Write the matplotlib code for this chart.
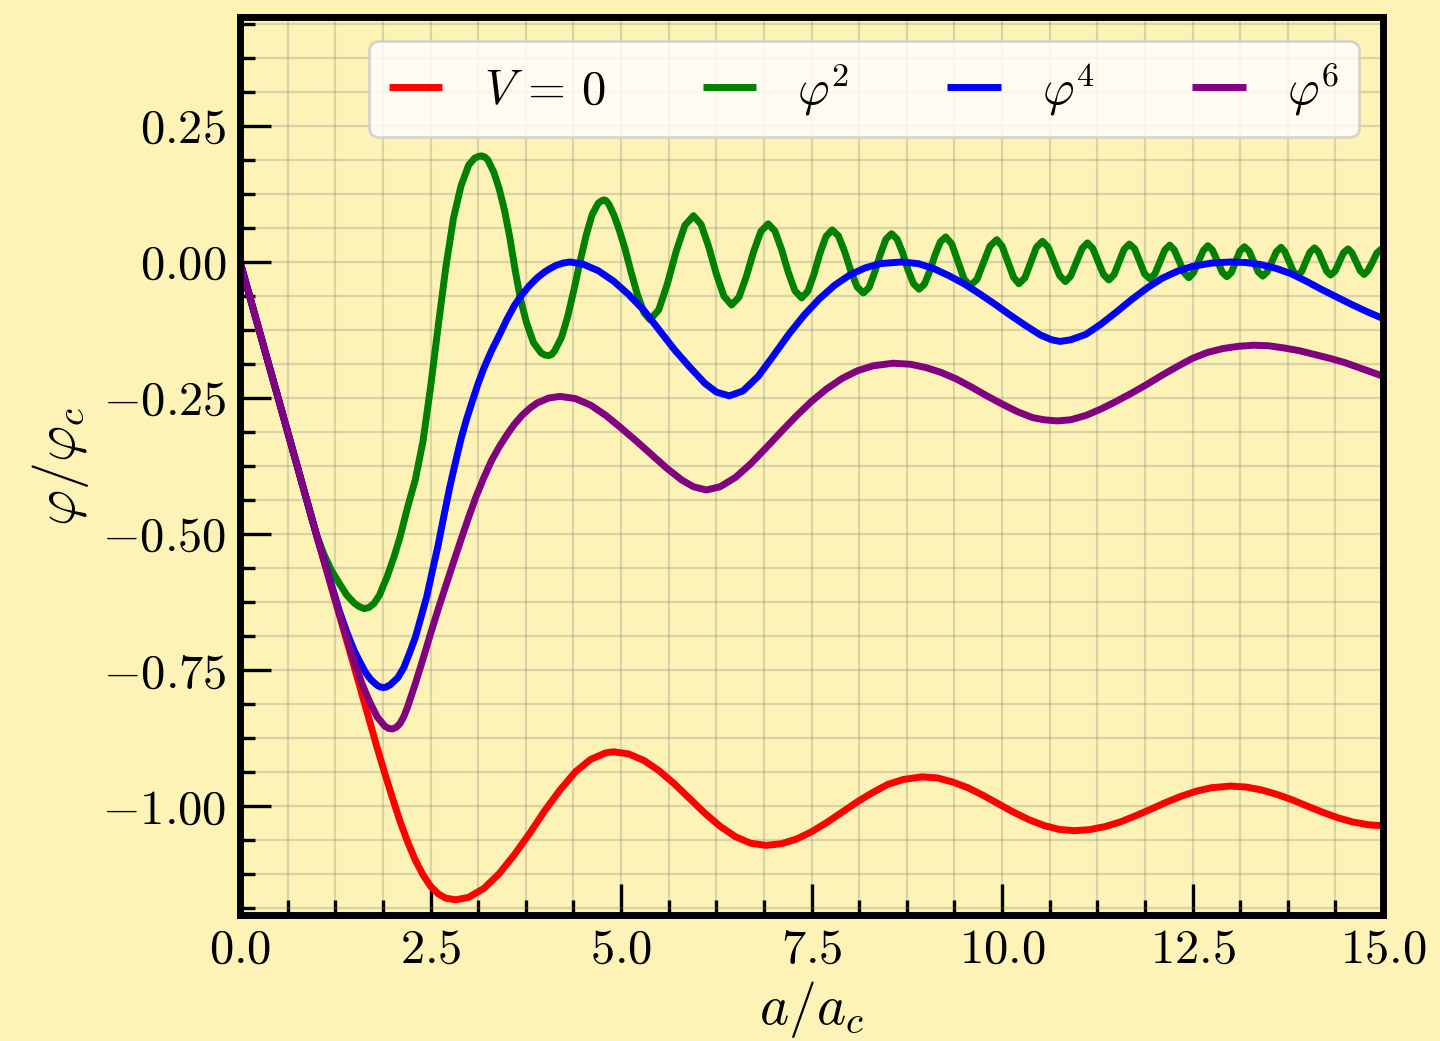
import numpy as np
import matplotlib.pyplot as plt
from matplotlib.ticker import MultipleLocator, FuncFormatter

plt.rcParams['mathtext.fontset'] = 'cm'
plt.rcParams['font.family'] = 'serif'
plt.rcParams['font.serif'] = ['cmr10', 'DejaVu Serif']

BG = '#fdf3b6'

# field evolution phi/phi_c against a/a_c for each potential
x_free = [0, 0.5, 1.0, 1.5, 1.8, 1.9, 2.0, 2.1, 2.2, 2.3, 2.4, 2.5, 2.6,
          2.7, 2.83, 3.0, 3.2, 3.4, 3.6, 3.8, 4.0, 4.2, 4.4, 4.6, 4.8, 4.9,
          5.1, 5.3, 5.5, 5.7, 5.9, 6.1, 6.3, 6.5, 6.7, 6.9, 7.1, 7.3, 7.5,
          7.7, 7.9, 8.1, 8.3, 8.5, 8.7, 8.95, 9.15, 9.35, 9.55, 9.75, 9.95,
          10.15, 10.35, 10.55, 10.75, 10.95, 11.15, 11.35, 11.55, 11.75,
          11.95, 12.15, 12.35, 12.55, 12.75, 13.0, 13.2, 13.4, 13.6, 13.8,
          14.0, 14.2, 14.4, 14.6, 14.8, 15.0]
phi_free = [0, -0.25, -0.50, -0.745, -0.893, -0.94, -0.985, -1.028, -1.066,
            -1.099, -1.126, -1.147, -1.161, -1.169, -1.172, -1.1675, -1.151,
            -1.124, -1.089, -1.050, -1.008, -0.970, -0.937, -0.914, -0.902,
            -0.900, -0.904, -0.916, -0.935, -0.959, -0.986, -1.013, -1.037,
            -1.056, -1.068, -1.072, -1.069, -1.0605, -1.047, -1.030, -1.011,
            -0.992, -0.975, -0.960, -0.951, -0.946, -0.948, -0.9555, -0.966,
            -0.980, -0.9955, -1.011, -1.0246, -1.0355, -1.0427, -1.045,
            -1.043, -1.0375, -1.029, -1.0178, -1.0056, -0.993, -0.9817,
            -0.9723, -0.966, -0.963, -0.9648, -0.970, -0.978, -0.988,
            -0.9995, -1.0108, -1.021, -1.029, -1.034, -1.036]

x_quad = [0, 0.5, 1.0, 1.1, 1.2, 1.3, 1.4, 1.5, 1.56, 1.63, 1.69, 1.76,
          1.83, 1.93, 2.02, 2.1, 2.2, 2.3, 2.4, 2.5, 2.6, 2.7, 2.8, 2.9, 3.0,
          3.08, 3.13, 3.17, 3.21, 3.25, 3.33, 3.4, 3.47, 3.54, 3.61, 3.68,
          3.76, 3.85, 3.95, 4.0, 4.05, 4.09, 4.13, 4.22, 4.3, 4.38, 4.46,
          4.54, 4.62, 4.7, 4.74, 4.77, 4.8, 4.84, 4.91, 4.98, 5.05, 5.13,
          5.21, 5.3, 5.38,
          5.494, 5.608, 5.722, 5.836, 5.95, 6.05, 6.15, 6.25, 6.35, 6.45,
          6.546, 6.642, 6.738, 6.834, 6.93, 7.018, 7.106, 7.194, 7.282, 7.37,
          7.45, 7.53, 7.61, 7.69, 7.77, 7.852, 7.934, 8.016, 8.098, 8.18,
          8.254, 8.328, 8.402, 8.476, 8.55, 8.622, 8.694, 8.766, 8.838, 8.91,
          8.98, 9.05, 9.12, 9.19, 9.26, 9.34, 9.42, 9.5, 9.58, 9.67, 9.755,
          9.84, 9.93, 10.0, 10.075, 10.15, 10.22, 10.3, 10.375, 10.45, 10.53,
          10.605, 10.68, 10.755, 10.83, 10.9, 10.975, 11.05, 11.12, 11.19,
          11.26, 11.33, 11.4, 11.47, 11.535, 11.6, 11.67, 11.74, 11.805,
          11.87, 11.94, 12.005, 12.07, 12.135, 12.2, 12.26, 12.325, 12.39,
          12.45, 12.51, 12.575, 12.64, 12.7, 12.76, 12.825, 12.89, 12.95,
          13.01, 13.065, 13.12, 13.18, 13.24, 13.3, 13.36, 13.42, 13.48,
          13.54, 13.6, 13.66, 13.71, 13.765, 13.82, 13.87, 13.93, 13.985,
          14.04, 14.1, 14.15, 14.205, 14.26, 14.31, 14.37, 14.425, 14.48,
          14.54, 14.59, 14.645, 14.7, 14.75, 14.8, 14.86, 14.915, 14.97, 15.0]
phi_quad = [0, -0.25, -0.5, -0.537, -0.567, -0.59, -0.612, -0.627, -0.633,
            -0.637, -0.635, -0.627, -0.612, -0.578, -0.542, -0.505, -0.45,
            -0.40, -0.33, -0.23, -0.118, -0.01, 0.08, 0.14, 0.178, 0.191,
            0.194, 0.195, 0.193, 0.188, 0.165, 0.135, 0.095, 0.045, -0.015,
            -0.068, -0.112, -0.148, -0.167, -0.171, -0.172, -0.170, -0.163,
            -0.138, -0.10, -0.052, 0.0, 0.048, 0.087, 0.108, 0.112, 0.114,
            0.113, 0.106, 0.085, 0.057, 0.025, -0.018, -0.058, -0.093, -0.106,
            -0.088, -0.040, 0.019, 0.067, 0.085, 0.069, 0.028, -0.022, -0.063,
            -0.079, -0.065, -0.0275, 0.0185, 0.056, 0.070, 0.057, 0.023,
            -0.019, -0.053, -0.066, -0.054, -0.023, 0.016, 0.047, 0.059,
            0.048, 0.019, -0.017, -0.046, -0.057, -0.047, -0.019, 0.014,
            0.042, 0.052, 0.042, 0.017, -0.015, -0.040, -0.050, -0.041,
            -0.017, 0.013, 0.037, 0.046, 0.033, 0.001, -0.031, -0.044,
            -0.032, -0.0015, 0.029, 0.041, 0.029, 0.0005, -0.028, -0.040,
            -0.029, -0.001, 0.027, 0.038, 0.027, 0.001, -0.025, -0.036,
            -0.026, -0.0005, 0.025, 0.035, 0.025, 0.001, -0.023, -0.033,
            -0.023, 0.0, 0.023, 0.033, 0.024, 0.001, -0.022, -0.031,
            -0.022, 0.0, 0.022, 0.031, 0.022, 0.001, -0.020, -0.029,
            -0.020, 0.0005, 0.021, 0.030, 0.022, 0.0015, -0.019, -0.027,
            -0.019, 0.0005, 0.020, 0.028, 0.020, 0.001, -0.018, -0.026,
            -0.018, 0.0005, 0.019, 0.027, 0.019, 0.001, -0.017, -0.025,
            -0.018, 0.0005, 0.018, 0.026, 0.019, 0.001, -0.017, -0.024,
            -0.017, 0.0, 0.017, 0.024, 0.017, 0.0005, -0.016, -0.023,
            -0.016, 0.0, 0.016, 0.023, 0.022]

x_quartic = [0, 0.5, 1.0, 1.3, 1.4, 1.5, 1.58, 1.65, 1.72, 1.8, 1.84, 1.88,
             1.92, 1.97, 2.07, 2.15, 2.22, 2.3, 2.37, 2.45, 2.52, 2.6, 2.67,
             2.75, 2.82, 2.9, 2.97, 3.05, 3.12, 3.2, 3.3, 3.4, 3.5, 3.6, 3.7,
             3.8, 3.9, 4.0, 4.07, 4.15, 4.24, 4.33, 4.5, 4.7, 4.9, 5.1, 5.3,
             5.5, 5.7, 5.9, 6.1, 6.25, 6.42, 6.6, 6.8, 7.0, 7.2, 7.4, 7.6, 7.8,
             8.0, 8.2, 8.4, 8.68, 8.9, 9.1, 9.3, 9.5, 9.7, 9.9, 10.1, 10.3,
             10.5, 10.65, 10.76, 10.9, 11.1, 11.3, 11.5, 11.7, 11.9, 12.1,
             12.3, 12.5, 12.75, 13.0, 13.2, 13.4, 13.6, 13.8, 14.0, 14.2, 14.4,
             14.6, 14.8, 15.0]
phi_quartic = [0, -0.25, -0.50, -0.64, -0.68, -0.715, -0.737, -0.755,
               -0.768, -0.778, -0.781, -0.782, -0.781, -0.777, -0.764,
               -0.745, -0.72, -0.69, -0.655, -0.615, -0.57, -0.52, -0.47,
               -0.415, -0.372, -0.325, -0.29, -0.255, -0.225, -0.195, -0.163,
               -0.135, -0.106, -0.08, -0.06, -0.043, -0.029, -0.018, -0.012,
               -0.006, -0.002, 0.0, -0.004, -0.016, -0.035, -0.060, -0.089,
               -0.125, -0.161, -0.193, -0.223, -0.239, -0.246, -0.237, -0.21,
               -0.172, -0.133, -0.098, -0.068, -0.043, -0.024, -0.011, -0.003,
               0.0, -0.003, -0.012, -0.025, -0.040, -0.058, -0.077, -0.097,
               -0.116, -0.134, -0.143, -0.146, -0.143, -0.133, -0.114, -0.092,
               -0.069, -0.048, -0.030, -0.017, -0.008, -0.002, 0.0, -0.001,
               -0.005, -0.012, -0.022, -0.036, -0.051, -0.065, -0.079, -0.092,
               -0.104]

x_sextic = [0, 0.5, 1.0, 1.3, 1.5, 1.6, 1.7, 1.8, 1.9, 1.95, 2.0, 2.05, 2.1,
            2.15, 2.2, 2.3, 2.4, 2.5, 2.6, 2.7, 2.8, 2.9, 3.0, 3.1, 3.2, 3.3,
            3.4, 3.5, 3.6, 3.7, 3.8, 3.9, 4.05, 4.2, 4.4, 4.6, 4.8, 5.0, 5.2,
            5.4, 5.6, 5.8, 5.95, 6.12, 6.3, 6.5, 6.7, 6.9, 7.1, 7.3, 7.5, 7.7,
            7.9, 8.1, 8.3, 8.57, 8.8, 9.0, 9.2, 9.4, 9.6, 9.8, 10.0, 10.2,
            10.4, 10.55, 10.72, 10.9, 11.1, 11.3, 11.5, 11.7, 11.9, 12.1,
            12.3, 12.5, 12.7, 12.9, 13.1, 13.3, 13.5, 13.7, 13.9, 14.1, 14.3,
            14.5, 14.7, 15.0]
phi_sextic = [0, -0.25, -0.50, -0.645, -0.735, -0.775, -0.808, -0.836,
              -0.853, -0.857, -0.858, -0.855, -0.848, -0.835, -0.817, -0.775,
              -0.73, -0.683, -0.638, -0.595, -0.552, -0.51, -0.469, -0.43,
              -0.396, -0.365, -0.34, -0.318, -0.298, -0.282, -0.269, -0.259,
              -0.25, -0.247, -0.251, -0.263, -0.282, -0.305, -0.329, -0.354,
              -0.379, -0.401, -0.413, -0.419, -0.413, -0.396, -0.371, -0.342,
              -0.312, -0.283, -0.256, -0.233, -0.214, -0.200, -0.191, -0.186,
              -0.188, -0.194, -0.203, -0.215, -0.23, -0.246, -0.261, -0.275,
              -0.286, -0.29, -0.292, -0.290, -0.282, -0.27, -0.256, -0.241,
              -0.225, -0.208, -0.192, -0.177, -0.166, -0.159, -0.155, -0.153,
              -0.154, -0.158, -0.163, -0.17, -0.177, -0.185, -0.195, -0.21]

labels = [r'$V\,=\,0$', r'$\varphi^2$', r'$\varphi^4$', r'$\varphi^6$']
colors = ['red', 'green', 'blue', 'purple']


def fmt(decimals):
    def f(v, pos):
        if abs(v) < 1e-9:
            v = 0.0
        return r'$%.*f$' % (decimals, v)
    return FuncFormatter(f)


fig = plt.figure(figsize=(7.2, 5.205), dpi=200, facecolor=BG)
ax = fig.add_axes([0.1667, 0.121, 0.7938, 0.8626])
ax.set_facecolor(BG)

series = [(x_free, phi_free), (x_quad, phi_quad),
          (x_quartic, phi_quartic), (x_sextic, phi_sextic)]
for (x, y), c, lab in zip(series, colors, labels):
    ax.plot(x, y, color=c, lw=2.5, label=lab,
            solid_joinstyle='round', solid_capstyle='round')

ax.set_xlim(0, 15)
ax.set_ylim(-1.2, 0.45)
ax.xaxis.set_major_locator(MultipleLocator(2.5))
ax.xaxis.set_minor_locator(MultipleLocator(0.625))
ax.yaxis.set_major_locator(MultipleLocator(0.25))
ax.yaxis.set_minor_locator(MultipleLocator(0.0625))
ax.xaxis.set_major_formatter(fmt(1))
ax.yaxis.set_major_formatter(fmt(2))

ax.tick_params(which='both', direction='in', top=False, right=False,
               labelsize=17.5, pad=5, width=1.2)
ax.tick_params(which='major', length=11)
ax.tick_params(which='minor', length=5.3)
ax.grid(which='both', color='gray', alpha=0.28, lw=0.8)
for s in ax.spines.values():
    s.set_linewidth(2.5)

ax.set_xlabel(r'$a/a_c$', fontsize=20, labelpad=2)
ax.set_ylabel(r'$\varphi/\varphi_c$', fontsize=20)

leg = ax.legend(loc='upper right', ncol=4, fontsize=17.5, handlelength=1.1,
                handletextpad=0.85, columnspacing=2.0)
for h in leg.get_lines():
    h.set_solid_capstyle('butt')

fig.savefig('out.png', dpi=200, facecolor=BG)
